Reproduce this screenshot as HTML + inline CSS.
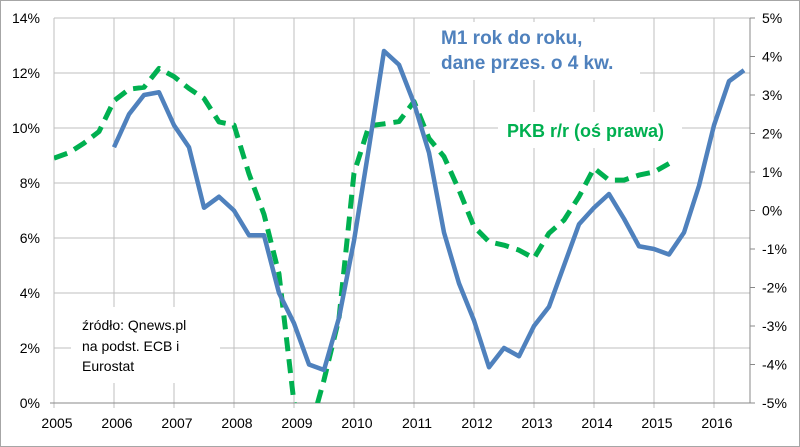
<!DOCTYPE html>
<html><head><meta charset="utf-8"><style>
body{margin:0;background:#fff}
svg{display:block;font-family:"Liberation Sans",sans-serif}
</style></head><body>
<svg id="chart" width="800" height="447" viewBox="0 0 800 447">
<rect x="0.5" y="0.5" width="799" height="446" fill="#fff" stroke="#a6a6a6"/>
<g id="grid"></g>
<g id="axes"></g>
<defs><clipPath id="clip"><rect x="54" y="18" width="696" height="385"/></clipPath></defs>
<g id="series" clip-path="url(#clip)"></g>
<rect x="430" y="22" width="210" height="58" fill="#fff"/>
<text x="441" y="44" fill="#4F81BD" font-size="19" font-weight="bold">M1 rok do roku,</text>
<text x="441" y="69" fill="#4F81BD" font-size="19" font-weight="bold">dane przes. o 4 kw.</text>
<rect x="498" y="112" width="184" height="36" fill="#fff"/>
<text x="507" y="137" fill="#00B050" font-size="18" font-weight="bold">PKB r/r (oś prawa)</text>
<rect x="71" y="307" width="149" height="76" fill="#fff"/>
<text font-size="14" fill="#000"><tspan x="82" y="330">źródło: Qnews.pl</tspan><tspan x="82" y="351">na podst. ECB i</tspan><tspan x="82" y="371">Eurostat</tspan></text>
</svg>
<script>
const m1Start = 2006.0;
const m1Values = [9.3,10.5,11.2,11.3, 10.1,9.3,7.1,7.5, 7.0,6.1,6.1,4.0, 2.9,1.4,1.2,3.1, 5.9,9.3,12.8,12.3, 10.9,9.1,6.2,4.35, 3.0,1.3,2.0,1.7, 2.8,3.5,5.0,6.5, 7.1,7.6,6.7,5.7, 5.6,5.4,6.2,7.9, 10.1,11.7,12.1];
const gdpStart = 2005.0;
const gdpValues = [1.36,1.5,1.75,2.05, 2.85,3.15,3.2,3.69, 3.48,3.17,2.91,2.3, 2.22,0.95,-0.1,-1.65, -5.0,-5.8,-4.4,-2.8, 0.97,2.2,2.25,2.31, 2.83,1.87,1.4,0.53, -0.42,-0.81,-0.9,-1.03, -1.24,-0.59,-0.25,0.36, 1.1,0.79,0.79,0.92, 1.0,1.22];
const years = [2005,2006,2007,2008,2009,2010,2011,2012,2013,2014,2015,2016];
const leftTicks = [0,2,4,6,8,10,12,14];
const rightTicks = [-5,-4,-3,-2,-1,0,1,2,3,4,5];

const NS = "http://www.w3.org/2000/svg";
const xS = y => 54 + (y - 2005) * 60;
const yL = v => 403 - v * 27.5;
const yR = v => 403 - (v + 5) * 38.5;
function mk(tag, attrs, parent){const e=document.createElementNS(NS,tag);for(const k in attrs)e.setAttribute(k,attrs[k]);parent.appendChild(e);return e;}
const grid=document.getElementById('grid'), axes=document.getElementById('axes'), series=document.getElementById('series');

leftTicks.forEach(t=>{
  if(t>0){const l=mk('line',{x1:54,x2:750,y1:yL(t),y2:yL(t),stroke:'#bfbfbf','stroke-width':1},grid);
  
  }
  const tx=mk('text',{x:40,y:yL(t)+5,'text-anchor':'end','font-size':14,fill:'#000'},axes);
  tx.textContent=t+'%';
  
  
});
years.forEach(y=>{
  const l=mk('line',{x1:xS(y),x2:xS(y),y1:18,y2:408,stroke:'#bfbfbf','stroke-width':1},grid);
  
  
  const tx=mk('text',{x:xS(y)+3,y:428,'text-anchor':'middle','font-size':14,fill:'#000'},axes);
  tx.textContent=y;
  
  
});
rightTicks.forEach(t=>{
  const tk=mk('line',{x1:750,x2:755,y1:yR(t),y2:yR(t),stroke:'#888'},axes);
  
  
  const tx=mk('text',{x:762,y:yR(t)+5,'font-size':14,fill:'#000'},axes);
  tx.textContent=t+'%';
  
  
});
const xa=mk('line',{x1:50,x2:752,y1:403,y2:403,stroke:'#888'},axes);


const ra=mk('line',{x1:750,x2:750,y1:18,y2:403,stroke:'#888'},axes);



const gPts=gdpValues.map((v,i)=>xS(gdpStart+i*0.25)+','+yR(v)).join(' ');
const g=mk('polyline',{points:gPts,fill:'none',stroke:'#00B050','stroke-width':5,'stroke-dasharray':'14 8','stroke-linejoin':'round'},series);


const mPts=m1Values.map((v,i)=>xS(m1Start+i*0.25)+','+yL(v)).join(' ');
const m=mk('polyline',{points:mPts,fill:'none',stroke:'#4F81BD','stroke-width':4.5,'stroke-linejoin':'round'},series);


</script>
</body></html>
